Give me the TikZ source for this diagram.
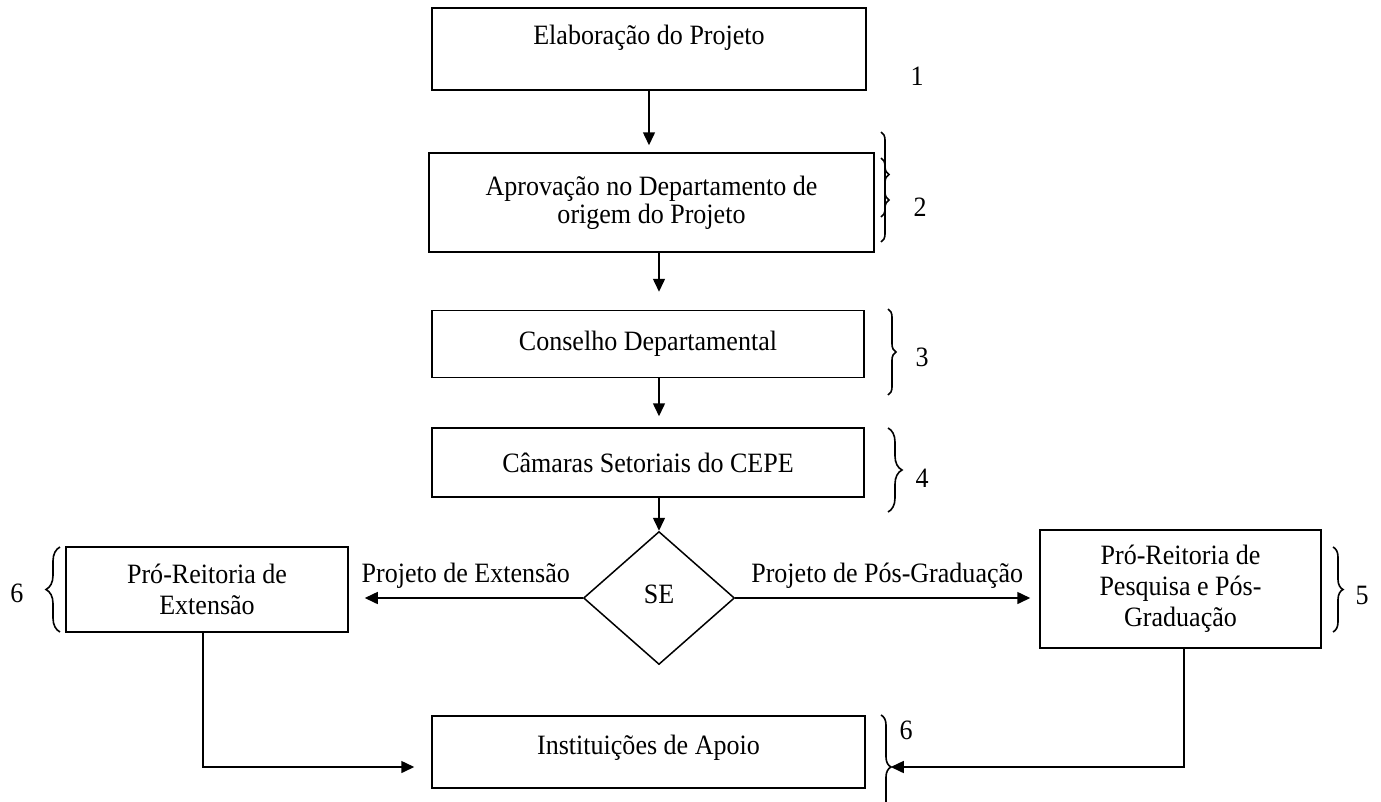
\documentclass[tikz,border=0pt]{standalone}
\usepackage{fontspec}
\setmainfont{Liberation Serif}[FakeStretch=0.93]
\usetikzlibrary{arrows.meta,shapes.geometric,decorations.pathreplacing,calc}
\begin{document}
\begin{tikzpicture}[x=1pt,y=-1pt,
  txt/.style={font=\fontsize{28}{28}\selectfont},
  box/.style={draw,line width=1.5pt,rectangle,inner sep=0pt,align=center,txt},
  lab/.style={txt,inner sep=0pt},
  arr/.style={line width=1.5pt,-{Triangle[length=13pt,width=12pt]}},
  brc/.style={line width=1.6pt,decorate,decoration={brace,amplitude=#1}},
  brc/.default=9pt]
\useasboundingbox (0,0) rectangle (1381,801);

% boxes
\node[box,minimum width=434pt,minimum height=82pt] (b1) at (649,49) {Elaboração do Projeto\\\mbox{}};
\node[box,minimum width=445pt,minimum height=99pt] (b2) at (651.5,202.5) {Aprovação no Departamento de\\origem do Projeto};
\node[box,minimum width=432pt,minimum height=67pt] (b3) at (648,344) {Conselho Departamental};
\node[box,minimum width=432pt,minimum height=69pt] (b4) at (648,462.5) {Câmaras Setoriais do CEPE};
\node[draw,diamond,line width=1.5pt,minimum width=151pt,minimum height=133pt,inner sep=0pt,lab] (d) at (659,598) {\raisebox{7pt}{SE}};
\node[box,minimum width=282pt,minimum height=85pt,font=\fontsize{28}{31}\selectfont] (pe) at (207,589.5) {Pró-Reitoria de\\Extensão};
\node[box,minimum width=281pt,minimum height=118pt,font=\fontsize{28}{31}\selectfont] (pp) at (1180.5,589) {Pró-Reitoria de\\Pesquisa e Pós-\\Graduação};
\node[box,minimum width=433pt,minimum height=72pt] (ia) at (648.5,752) {Instituições de Apoio\\[-14pt]\mbox{}};

% connectors
\draw[arr,shorten >=7pt] (b1.south) -- (b1.south |- b2.north);
\draw[arr,shorten >=18pt] (b2.south -| d.north) -- (b3.north -| d.north);
\draw[arr,shorten >=11pt] (b3.south -| d.north) -- (b4.north -| d.north);
\draw[arr] (b4.south -| d.north) -- (d.north);
\draw[arr,shorten >=16pt] (d.west) -- node[lab,midway,above=9pt]{Projeto de Extensão} (d.west -| pe.east);
\draw[arr,shorten >=9pt] (d.east) -- node[lab,midway,above=9pt]{Projeto de Pós-Graduação} (d.east -| pp.west);
\draw[arr,shorten >=17pt] ($(pe.south)+(-4,0)$) |- ($(ia.west)+(0,15)$);
\draw[arr,shorten >=25pt] ($(pp.south)+(3.5,0)$) |- ($(ia.east)+(0,15)$);

% braces and numbers
\draw[brc=8pt] (881,132) -- (881,217);
\draw[brc=8pt] (881,158) -- (881,242);
\draw[brc=8pt] (888,309) -- (888,395);
\draw[brc=14pt] (888,428) -- (888,512);
\draw[brc=10pt] (1333,547) -- (1333,632);
\draw[brc=14pt] (60,632) -- (60,547);
\draw[brc=10pt] (881,715) -- (881,819);
\node[lab] (n1) at (917,76) {1};
\node[lab] (n2) at (920,207) {2};
\node[lab] (n3) at (922,357) {3};
\node[lab] (n4) at (922,478) {4};
\node[lab] (n5) at (1362,595) {5};
\node[lab] (n6a) at (17,593) {6};
\node[lab] (n6b) at (906,730) {6};
\end{tikzpicture}
\end{document}
